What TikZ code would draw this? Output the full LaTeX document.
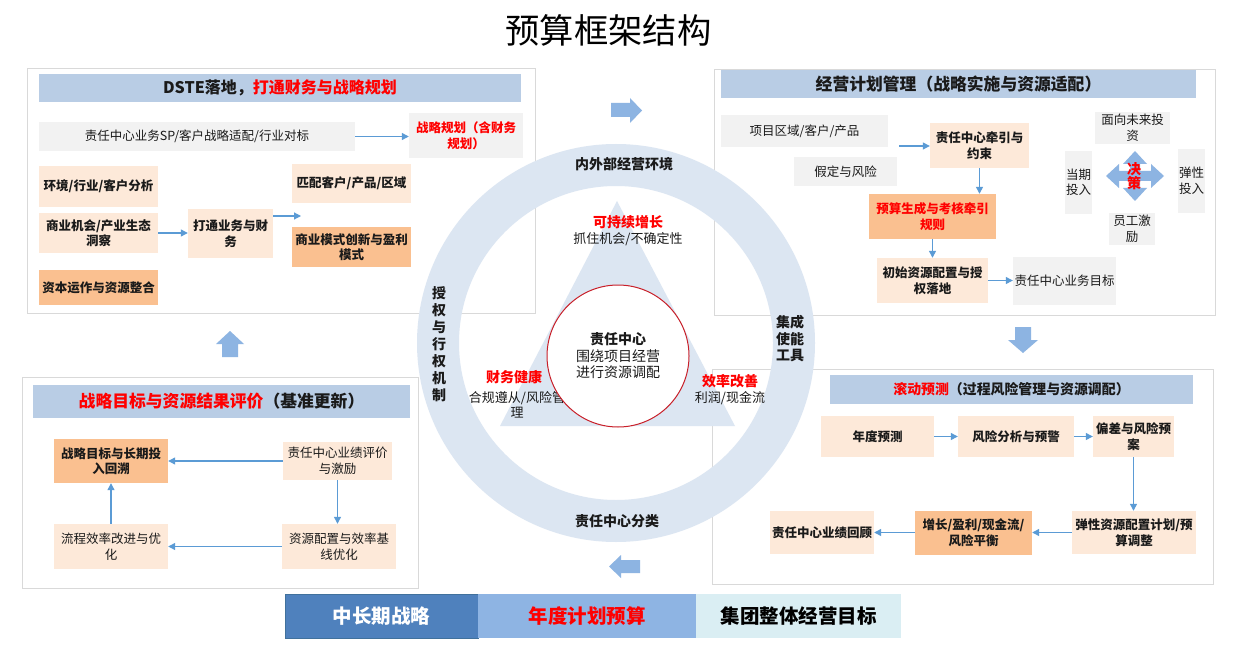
\documentclass[tikz,border=0pt]{standalone}
\usepackage{fontspec}
\setmainfont{Noto Sans CJK SC}
\usetikzlibrary{arrows.meta}
\definecolor{hdrc}{HTML}{B9CDE5}
\definecolor{grayc}{HTML}{F2F2F2}
\definecolor{peach}{HTML}{FDE9D9}
\definecolor{orangec}{HTML}{FAC090}
\definecolor{ringc}{HTML}{DCE6F2}
\definecolor{connc}{HTML}{5B9BD5}
\definecolor{blockc}{HTML}{8DB4E2}
\definecolor{panelc}{HTML}{D9D9D9}
\definecolor{redc}{HTML}{FF0000}
\definecolor{circred}{HTML}{C8202A}
\definecolor{bar1}{HTML}{4F81BD}
\definecolor{bar1d}{HTML}{41719C}
\definecolor{bar2}{HTML}{8EB4E3}
\definecolor{bar3}{HTML}{DAEEF3}
\definecolor{txt}{HTML}{1A1A1A}
\newcommand\myfs[2]{\fontsize{#1}{#2}\selectfont}
\tikzset{
  wh/.style 2 args={minimum width=#1pt,minimum height=#2pt},
  base/.style={rectangle,inner sep=0pt,align=center,text=txt},
  nf/.style={font=\myfs{12.5}{15.5}},
  bfn/.style={font=\myfs{12.5}{15.5}\bfseries},
  gbox/.style={base,fill=grayc},
  pbox/.style={base,fill=peach},
  obox/.style={base,fill=orangec},
  hdr/.style={base,fill=hdrc},
  panel/.style={draw=panelc,line width=0.8pt,fill=white},
  conn/.style={draw=connc,line width=1.2pt,-{Triangle[length=7pt,width=7pt]}},
  ctext/.style={inner sep=0pt,align=center,text=txt,font=\myfs{14}{17}\bfseries},
  csub/.style={inner sep=0pt,align=center,text=txt,font=\myfs{13}{15}},
  bar/.style={base,wh={#1}{44},font=\myfs{19.5}{22}\bfseries},
}
\begin{document}
\begin{tikzpicture}[x=1pt,y=-1pt]
\useasboundingbox (0,0) rectangle (1247,655);
\fill[white] (0,0) rectangle (1247,655);

% title
\node[inner sep=0pt,font=\myfs{34.3}{40},text=black] (title) at (608.5,30) {预算框架结构};

% panels
\draw[panel] (27,68) rectangle (535,313);
\draw[panel] (714,69) rectangle (1215,315);
\draw[panel] (22,377) rectangle (418,588);
\draw[panel] (712,369) rectangle (1213,584);

% ring and triangle
\fill[ringc,even odd rule] (616,343) circle[radius=199pt] (616,343) circle[radius=157pt];
\fill[ringc] (617,201) -- (735,426) -- (500,426) -- cycle;

% centre texts
\node[ctext] (env) at (624,164) {内外部经营环境};
\node[ctext,text=redc] (kc) at (628,222) {可持续增长};
\node[csub] (kcs) at (628,239) {抓住机会/不确定性};
\node[ctext,text=redc] (cw) at (514,377) {财务健康};
\node[csub] (cws) at (517,404.5) {合规遵从/风险管\\理};
\node[ctext,text=redc] (xl) at (730,381) {效率改善};
\node[csub] (xls) at (730,398) {利润/现金流};
\node[ctext] (sq) at (439,344) {授\\权\\与\\行\\权\\机\\制};
\node[ctext,font=\myfs{14}{16.5}\bfseries] (jc2) at (790,339) {集成\\使能\\工具};
\node[ctext] (fl) at (617,521) {责任中心分类};
\node[circle,draw=circred,line width=1pt,fill=white,minimum size=142pt,inner sep=0pt,align=center,text=txt,font=\myfs{14}{16.5}] (core) at (618,356) {\textbf{责任中心}\\围绕项目经营\\进行资源调配};

% ---------- top-left panel ----------
\node[hdr,wh={482}{28},font=\myfs{16}{19}\bfseries] (hdrTL) at (280,88) {DSTE落地，\textcolor{redc}{打通财务与战略规划}};
\node[gbox,nf,wh={316}{29}] (sp) at (197,136.5) {责任中心业务SP/客户战略适配/行业对标};
\node[gbox,bfn,text=redc,wh={114}{45}] (zlgh) at (466,135.5) {战略规划（含财务\\规划）};
\node[pbox,bfn,wh={119}{41}] (hj) at (98.5,186.5) {环境/行业/客户分析};
\node[pbox,bfn,wh={119}{40}] (sy) at (98.5,233) {商业机会/产业生态\\洞察};
\node[pbox,bfn,wh={85}{49}] (dt) at (230.5,233.5) {打通业务与财\\务};
\node[pbox,bfn,wh={119}{39}] (pp) at (351.5,183.5) {匹配客户/产品/区域};
\node[obox,bfn,wh={119}{40}] (sm) at (351.5,247) {商业模式创新与盈利\\模式};
\node[obox,bfn,wh={119}{35}] (zb) at (98.5,287.5) {资本运作与资源整合};
\coordinate (dtEnd) at (301,216);
\draw[conn] (sp.east) -- (sp.east -| zlgh.west);
\draw[conn] (sy.east) -- (sy.east -| dt.west);
\draw[conn] (dt.east |- dtEnd) -- (dtEnd);

% ---------- top-right panel ----------
\node[hdr,wh={475}{28},font=\myfs{16.8}{19}\bfseries] (hdrTR) at (958.5,84) {经营计划管理（战略实施与资源适配）};
\node[gbox,nf,wh={167}{32}] (xm) at (804.5,131) {项目区域/客户/产品};
\node[gbox,nf,wh={103}{29}] (jd) at (845.5,171.5) {假定与风险};
\node[pbox,bfn,wh={99}{45}] (zrqy) at (979.5,145.5) {责任中心牵引与\\约束};
\node[obox,bfn,text=redc,wh={127}{45}] (ys) at (932.5,216.5) {预算生成与考核牵引\\规则};
\node[pbox,bfn,wh={111}{45}] (cs) at (932.5,280.5) {初始资源配置与授\\权落地};
\node[gbox,nf,wh={103}{48}] (mb) at (1064.5,281) {责任中心业务目标};
\node[gbox,nf,wh={75}{32}] (mx) at (1132.5,128) {面向未来投\\资};
\node[gbox,nf,wh={27}{63}] (dq) at (1078.5,182.5) {当期\\投入};
\node[gbox,nf,wh={27}{64}] (tx) at (1191.5,181) {弹性\\投入};
\node[gbox,nf,wh={46}{32}] (yg) at (1132,229) {员工激\\励};
\coordinate (inA) at (899,146);
\draw[conn] (inA) -- (inA -| zrqy.west);
\draw[conn] (zrqy.south) -- (zrqy.south |- ys.north);
\draw[conn] (ys.south) -- (cs.north);
\draw[conn] (cs.east) -- (cs.east -| mb.west);
% decision four-way arrow
\begin{scope}[shift={(1135,176)}]
\fill[blockc] (0,-25) -- (12,-12) -- (5,-12) -- (5,-5) -- (16,-5) -- (16,-12) -- (29,0)
  -- (16,12) -- (16,5) -- (5,5) -- (5,12) -- (12,12) -- (0,25) -- (-12,12) -- (-5,12)
  -- (-5,5) -- (-16,5) -- (-16,12) -- (-29,0) -- (-16,-12) -- (-16,-5) -- (-5,-5)
  -- (-5,-12) -- (-12,-12) -- cycle;
\end{scope}
\node[inner sep=0pt,align=center,text=redc,font=\myfs{14}{14}\bfseries] (jc) at (1134,176) {决\\策};

% ---------- bottom-left panel ----------
\node[hdr,wh={377}{33},font=\myfs{16.8}{19}\bfseries] (hdrBL) at (221.5,401.5) {\textcolor{redc}{战略目标与资源结果评价}（基准更新）};
\node[obox,bfn,wh={114}{44}] (zlmb) at (111,461) {战略目标与长期投\\入回溯};
\node[pbox,nf,wh={109}{38}] (zrpj) at (337.5,461) {责任中心业绩评价\\与激励};
\node[pbox,nf,wh={114}{45}] (zypz) at (339,546.5) {资源配置与效率基\\线优化};
\node[pbox,nf,wh={114}{45}] (lc) at (111,546.5) {流程效率改进与优\\化};
\draw[conn] (zrpj.west) -- (zlmb.east);
\draw[conn] (zrpj.south) -- (zrpj.south |- zypz.north);
\draw[conn] (zypz.west) -- (lc.east);
\draw[conn] (lc.north) -- (zlmb.south);

% ---------- bottom-right panel ----------
\node[hdr,wh={363}{29},font=\myfs{13.9}{16}\bfseries] (hdrBR) at (1011.5,389.5) {\textcolor{redc}{滚动预测}（过程风险管理与资源调配）};
\node[pbox,bfn,wh={113}{41}] (nd) at (877.5,436.5) {年度预测};
\node[pbox,bfn,wh={116}{41}] (fx) at (1016,436.5) {风险分析与预警};
\node[pbox,bfn,wh={81}{41}] (pc) at (1133.5,436.5) {偏差与风险预\\案};
\node[pbox,bfn,wh={124}{43}] (tx2) at (1134,532.5) {弹性资源配置计划/预\\算调整};
\node[obox,bfn,wh={117}{44}] (zz) at (973.5,532.5) {增长/盈利/现金流/\\风险平衡};
\node[pbox,bfn,wh={104}{43}] (hg) at (822,532.5) {责任中心业绩回顾};
\draw[conn] (nd.east) -- (fx.west);
\draw[conn] (fx.east) -- (pc.west);
\draw[conn] (pc.south) -- (pc.south |- tx2.north);
\draw[conn] (tx2.west) -- (zz.east);
\draw[conn] (zz.west) -- (hg.east);

% ---------- block arrows ----------
\fill[blockc] (611,103) -- (630,103) -- (630,98) -- (642,110.5) -- (630,123) -- (630,117) -- (611,117) -- cycle;
\fill[blockc] (230,331) -- (244,344) -- (238,344) -- (238,357) -- (222,357) -- (222,344) -- (216,344) -- cycle;
\fill[blockc] (1023,353) -- (1038,340) -- (1031,340) -- (1031,327) -- (1015,327) -- (1015,340) -- (1008,340) -- cycle;
\fill[blockc] (609,566.5) -- (621,555) -- (621,560) -- (640,560) -- (640,573) -- (621,573) -- (621,578) -- cycle;

% ---------- bottom bar ----------
\node[bar={193},fill=bar1,draw=bar1d,line width=0.6pt,text=white] (b1) at (381.5,616) {中长期战略};
\node[bar={218},fill=bar2,text=redc] (b2) at (587,616) {年度计划预算};
\node[bar={205},fill=bar3,text=black] (b3) at (798.5,616) {集团整体经营目标};
\end{tikzpicture}
\end{document}
